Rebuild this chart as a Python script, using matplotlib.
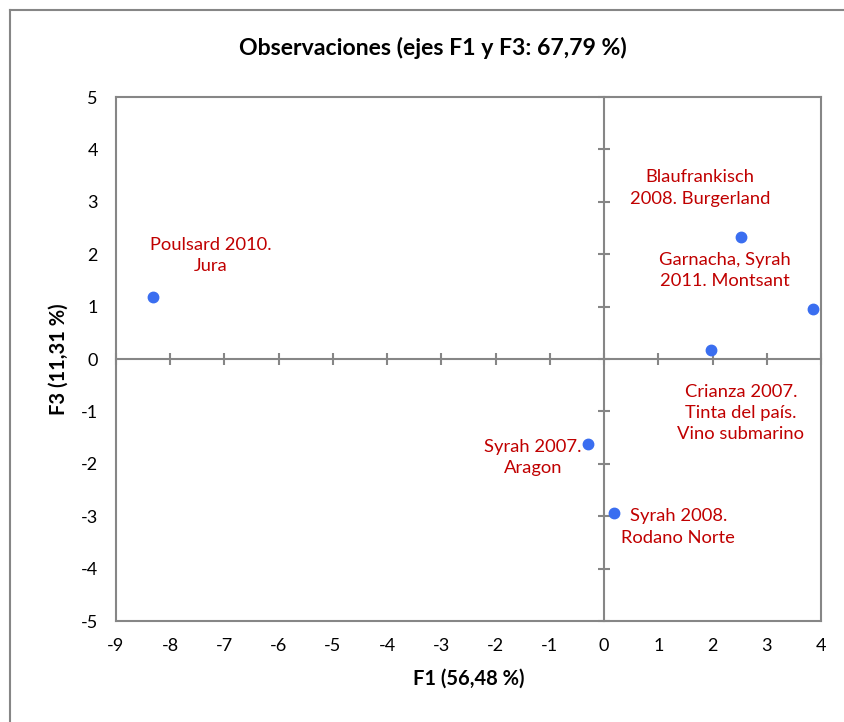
import matplotlib
matplotlib.use("Agg")
import matplotlib.pyplot as plt
from matplotlib.lines import Line2D

plt.rcParams['font.family'] = ['Lato', 'DejaVu Sans']
plt.rcParams['axes.unicode_minus'] = False

# Data
names = ["Poulsard 2010.\nJura",
         "Blaufrankisch\n2008. Burgerland",
         "Garnacha, Syrah\n2011. Montsant",
         "Crianza 2007.\nTinta del país.\nVino submarino",
         "Syrah 2007.\nAragon",
         "Syrah 2008.\nRodano Norte"]
f1 = [-8.32, 2.52, 3.86, 1.97, -0.30, 0.19]
f3 = [1.18, 2.33, 0.96, 0.17, -1.62, -2.94]
# label offsets (pixels) from the point to the label centre
label_dx = [58, -41, -89, 30, -55, 64]
label_dy = [42, 49, 38, -63, -14, -14]

xticks = list(range(-9, 5))
yticks = list(range(-5, 6))

title = "Observaciones (ejes F1 y F3: 67,79 %)"
xlabel = "F1 (56,48 %)"
ylabel = "F3 (11,31 %)"

W, H = 845, 722
fig = plt.figure(figsize=(W / 100, H / 100), dpi=100)

gray = "#868686"
pos = [116 / W, 1 - 621 / H, (821 - 116) / W, (621 - 97) / H]

ax = fig.add_axes(pos)
ax.set_xlim(-9, 4)
ax.set_ylim(-5, 5)
ax.set_xticks(xticks)
ax.set_yticks(yticks)
ax.tick_params(length=0, labelsize=13, pad=12)
ax.tick_params(axis='y', pad=13)
for s in ax.spines.values():
    s.set_color(gray)
    s.set_linewidth(1.5)
ax.set_xlabel(xlabel, fontsize=14.5, fontweight='bold', labelpad=11)
ax.set_ylabel(ylabel, fontsize=14.5, fontweight='bold', labelpad=9)

ax2 = fig.add_axes(pos, sharex=ax, sharey=ax)
ax2.patch.set_visible(False)
ax2.spines['top'].set_visible(False)
ax2.spines['right'].set_visible(False)
ax2.spines['left'].set_position(('data', 0))
ax2.spines['bottom'].set_position(('data', 0))
for s in ('left', 'bottom'):
    ax2.spines[s].set_color(gray)
    ax2.spines[s].set_linewidth(1.5)
ax2.tick_params(direction='inout', length=9, width=1.5, color=gray,
                labelleft=False, labelbottom=False)

ax2.plot(f1, f3, 'o', color="#3A6EF0", markersize=7.5, zorder=5)
for x, y, n, dx, dy in zip(f1, f3, names, label_dx, label_dy):
    ax2.annotate(n, (x, y), xytext=(dx, dy), textcoords='offset pixels',
                 ha='center', va='center', color="#C00000", fontsize=13.2,
                 linespacing=1.4)

fig.text(433 / W, 1 - 48 / H, title, ha='center', va='center',
         fontsize=16.6, fontweight='bold')

# outer chart border (left and top)
fig.add_artist(Line2D([10 / W, 10 / W], [0, 1 - 10 / H], transform=fig.transFigure,
                      color=gray, lw=1.5))
fig.add_artist(Line2D([10 / W, 1], [1 - 10 / H, 1 - 10 / H], transform=fig.transFigure,
                      color=gray, lw=1.5))

fig.savefig("out.png", dpi=100)
